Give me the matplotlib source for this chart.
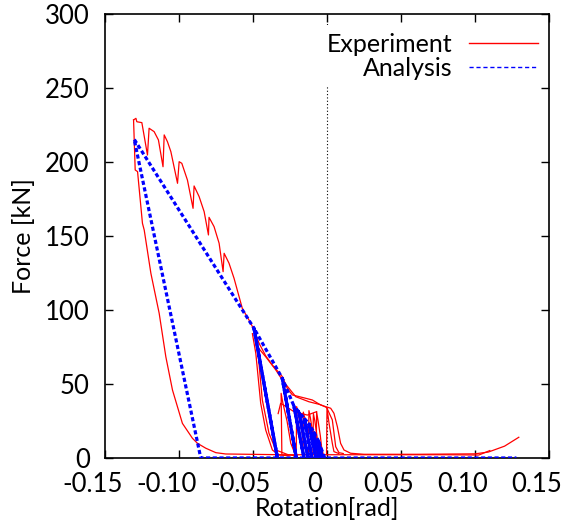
import numpy as np
import matplotlib.pyplot as plt
import matplotlib.transforms as mtransforms
from matplotlib.lines import Line2D

## Experiment (red), one list per traced branch

# main skeleton: saw-tooth loading curve, then down to zero and along the floor
exp_env_x = [-0.1307, -0.1291, -0.1285, -0.1251, -0.1213, -0.1202, -0.1168, -0.1139, -0.1108, -0.1100,
             -0.1078, -0.1055, -0.1010, -0.0999, -0.0981, -0.0943, -0.0905, -0.0898, -0.0864, -0.0830,
             -0.0801, -0.0797, -0.0763, -0.0729, -0.0702, -0.0695, -0.0662, -0.0628, -0.0594, -0.0572,
             -0.0520, -0.0493, -0.0459, -0.0414, -0.0369, -0.0302, -0.0268, -0.0234, -0.0150, -0.0099,
             -0.0043, 0.0025, 0.0047, 0.0070, 0.0092, 0.0115, 0.0160, 0.0250, 0.0600, 0.1000,
             0.1090, 0.1200, 0.1296]
exp_env_y = [228.4, 229.5, 227.2, 226.6, 204.7, 222.8, 220.5, 214.9, 196.8, 218.3,
             213.7, 207.0, 185.6, 200.2, 199.1, 187.8, 168.7, 183.8, 176.6, 166.4,
             150.7, 162.6, 156.3, 145.1, 125.9, 138.3, 131.6, 121.4, 109.0, 101.0,
             92.0, 86.5, 77.5, 69.0, 62.8, 55.0, 47.0, 42.6, 40.5, 39.2,
             35.8, 33.6, 30.2, 21.2, 9.9, 5.4, 3.2, 2.5, 2.5, 2.8,
             4.0, 8.0, 14.0]

# large unloading branch from the peak
exp_unl_x = [-0.1307, -0.1296, -0.1280, -0.1247, -0.1235, -0.1190, -0.1134, -0.1089, -0.1044, -0.0977,
             -0.0909, -0.0875, -0.0819, -0.0751, -0.0684, -0.0300, 0.0200, 0.0800, 0.1026, 0.1100]
exp_unl_y = [228.4, 194.6, 193.5, 158.6, 154.0, 124.8, 97.8, 68.4, 45.9, 23.4,
             13.3, 9.9, 6.6, 3.6, 2.7, 2.2, 2.2, 2.2, 2.0, 5.0]

# two unloadings from about -0.05 rad
exp_u2_x = [-0.0504, -0.0481, -0.0448, -0.0414, -0.0369, -0.0324, -0.0257]
exp_u2_y = [84.0, 70.7, 37.0, 18.9, 5.4, 2.0, 1.5]
exp_u3_x = [-0.0490, -0.0470, -0.0437, -0.0392, -0.0346, -0.0257, -0.0200]
exp_u3_y = [86.0, 75.2, 39.2, 16.7, 5.4, 2.0, 1.5]

# second reloading path below the skeleton
exp_env2_x = [-0.0481, -0.0414, -0.0346, -0.0302, -0.0211, -0.0122, -0.0043, 0.0]
exp_env2_y = [76.4, 68.4, 59.5, 52.7, 41.4, 38.0, 36.0, 34.0]
exp_env3_x = [-0.0330, -0.0313, -0.0223, -0.0133, -0.0070]
exp_env3_y = [30.0, 37.0, 31.3, 29.0, 31.3]

# small cycles near zero rotation
exp_s1_x = [-0.0305, -0.0310, -0.0300, -0.0270, -0.0245, -0.0215]
exp_s1_y = [3.0, 43.7, 38.0, 25.0, 10.0, 2.5]
exp_s2_x = [-0.0208, -0.0205, -0.0195, -0.0170, -0.0150, -0.0130]
exp_s2_y = [3.0, 34.7, 30.0, 18.0, 7.0, 2.5]
exp_s3_x = [-0.0163, -0.0160, -0.0150, -0.0130, -0.0112, -0.0095]
exp_s3_y = [3.0, 31.0, 27.0, 16.0, 6.0, 2.5]
exp_s4_x = [-0.0125, -0.0122, -0.0112, -0.0095, -0.0080, -0.0065]
exp_s4_y = [3.0, 32.0, 27.0, 16.0, 6.0, 2.5]
exp_s5_x = [-0.0095, -0.0092, -0.0082, -0.0068, -0.0055, -0.0040]
exp_s5_y = [3.0, 30.0, 25.0, 15.0, 6.0, 2.5]
exp_s6_x = [-0.0073, -0.0070, -0.0060, -0.0045, -0.0035, -0.0025]
exp_s6_y = [3.0, 31.0, 25.0, 15.0, 6.0, 2.5]
exp_s7_x = [-0.0003, 0.0, 0.0014, 0.0036, 0.0047, 0.0080]
exp_s7_y = [2.5, 33.6, 23.4, 9.9, 4.3, 3.0]
exp_s8_x = [0.0, 0.0036, 0.0059, 0.0081, 0.0110]
exp_s8_y = [33.6, 25.7, 7.6, 3.6, 3.0]

## Analysis (blue) - peaks on the skeleton and where each unloading reaches zero
ana_peak_x = [-0.0060, -0.0092, -0.0122, -0.0155, -0.0189, -0.0223, -0.0302, -0.0493, -0.1303]
ana_peak_y = [12.0, 18.0, 23.0, 27.0, 31.0, 35.0, 53.8, 87.6, 215.4]
ana_zero_x = [-0.0030, -0.0052, -0.0075, -0.0102, -0.0128, -0.0155, -0.0207, -0.0335, -0.0853]
ana_start_x = -0.0015
ana_end_x = 0.128

## build the analysis path: load to each peak, unload to zero, reload, go on
path_x = [ana_start_x]
path_y = [0.0]
for i in range(len(ana_peak_x)):
	path_x += [ana_peak_x[i], ana_zero_x[i]]
	path_y += [ana_peak_y[i], 0.0]
	if i < len(ana_peak_x) - 1:
		path_x.append(ana_peak_x[i])
		path_y.append(ana_peak_y[i])
path_x.append(ana_end_x)
path_y.append(0.0)

plt.rcParams['font.family'] = ['Lato', 'DejaVu Sans']
plt.rcParams['font.size'] = 18

fig = plt.figure(figsize=(5.63, 5.26), dpi=100)
ax = fig.add_axes([0.1865, 0.1293, 0.7886, 0.8441])

red = '#ff0000'
blue = '#0000ff'
rlw = 0.9

exp_curves = [(exp_env_x, exp_env_y), (exp_unl_x, exp_unl_y), (exp_u2_x, exp_u2_y), (exp_u3_x, exp_u3_y),
              (exp_env2_x, exp_env2_y), (exp_env3_x, exp_env3_y), (exp_s1_x, exp_s1_y), (exp_s2_x, exp_s2_y),
              (exp_s3_x, exp_s3_y), (exp_s4_x, exp_s4_y), (exp_s5_x, exp_s5_y), (exp_s6_x, exp_s6_y),
              (exp_s7_x, exp_s7_y), (exp_s8_x, exp_s8_y)]
for cx, cy in exp_curves:
	ax.plot(cx, cy, color=red, lw=rlw, zorder=3)

# unload/reload lines are traced twice, so they look solid
for i in range(len(ana_peak_x) - 1):
	ax.plot([ana_peak_x[i], ana_zero_x[i]], [ana_peak_y[i], 0.0], color=blue, lw=2.3,
	        solid_capstyle='butt', zorder=4)
ax.plot(path_x, path_y, color=blue, lw=2.3, linestyle=(0, (1.3, 0.8)), zorder=4)

# zero line
ax.axvline(0.0, color='black', lw=0.8, linestyle=(0, (1, 2)), zorder=2)

ax.set_xlim(-0.15, 0.15)
ax.set_ylim(0, 300)
ax.set_xticks([-0.15, -0.10, -0.05, 0, 0.05, 0.10, 0.15])
ax.set_xticklabels(['-0.15', '-0.10', '-0.05', '0', '0.05', '0.10', '0.15'])
ax.set_yticks([0, 50, 100, 150, 200, 250, 300])
ax.tick_params(direction='in', length=6, width=1, top=True, right=True, labelsize=18.5)
ax.tick_params(axis='x', pad=10)
ax.tick_params(axis='y', pad=11)
for sp in ax.spines.values():
	sp.set_linewidth(1.2)

# gnuplot puts the x tick labels a bit to the left
shift = mtransforms.ScaledTranslation(-12 / 100, 0, fig.dpi_scale_trans)
for lab in ax.get_xticklabels():
	lab.set_transform(lab.get_transform() + shift)

ax.set_xlabel('Rotation[rad]', fontsize=18, labelpad=0)
ax.set_ylabel('Force [kN]', fontsize=18, labelpad=7)

handles = [Line2D([], [], color=red, lw=1.0),
           Line2D([], [], color=blue, lw=1.0, linestyle=(0, (3, 2)))]
leg = ax.legend(handles, ['Experiment', 'Analysis'], loc='upper right', bbox_to_anchor=(1.02, 1.003),
                markerfirst=False, handlelength=2.76, handletextpad=0.64, labelspacing=0.05,
                borderpad=0.3, fontsize=18, frameon=True, fancybox=False, framealpha=1,
                facecolor='white', edgecolor='none')
leg.set_zorder(10)

plt.savefig('out.png', dpi=100)
